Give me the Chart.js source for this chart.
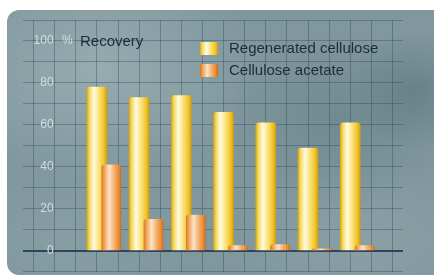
<!DOCTYPE html>
<html>
<head>
<meta charset="utf-8">
<script src="https://cdn.jsdelivr.net/npm/chart.js@4.4.1/dist/chart.umd.min.js"></script>
<style>
  html, body { margin: 0; padding: 0; background: #fff; }
  #wrap { position: relative; width: 434px; height: 279px; overflow: hidden; }
  #panel {
    position: absolute; left: 7px; top: 10px; width: 440px; height: 265px;
    border-radius: 12px;
    background-color: #7f979d;
    background-image:
      radial-gradient(ellipse 160px 110px at 90px 60px, rgba(175,192,196,0.5), rgba(175,192,196,0) 100%),
      radial-gradient(ellipse 120px 90px at 330px 110px, rgba(70,95,104,0.25), rgba(70,95,104,0) 100%),
      radial-gradient(ellipse 70px 60px at 410px 80px, rgba(60,85,95,0.3), rgba(60,85,95,0) 100%),
      radial-gradient(ellipse 140px 80px at 360px 230px, rgba(160,176,180,0.35), rgba(160,176,180,0) 100%),
      radial-gradient(ellipse 120px 80px at 60px 230px, rgba(150,170,175,0.35), rgba(150,170,175,0) 100%);
  }
  canvas { position: absolute; left: 0; top: 0; }
</style>
</head>
<body>
<div id="wrap">
  <div id="panel"></div>
  <canvas id="chart" width="434" height="279"></canvas>
</div>
<script>
// values (% recovery)
const samples = ['1', '2', '3', '4', '5', '6', '7'];
const regenerated = [78, 73, 74, 66, 61, 49, 61];
const acetate = [41, 15, 17, 2.5, 3, 1, 2.5];
const seriesNames = ['Regenerated cellulose', 'Cellulose acetate'];
const yTicks = ['0', '20', '40', '60', '80', '100'];

const textFont = '"Liberation Sans", Arial, sans-serif';

function barFill(stops, fallback) {
  return (c) => {
    const chart = c.chart;
    const s = chart.scales[c.dataset.xAxisID];
    if (!s || !chart.chartArea) return fallback;
    const x = s.getPixelForValue(c.dataIndex);
    const g = chart.ctx.createLinearGradient(x - 10, 0, x + 10, 0);
    stops.forEach(st => g.addColorStop(st[0], st[1]));
    return g;
  };
}

const yellowStops = [[0, '#d9a618'], [0.12, '#f3d85a'], [0.35, '#fffbe2'], [0.6, '#fbe27a'], [0.85, '#f0c52c'], [1, '#cf9d14']];
const orangeStops = [[0, '#d9741c'], [0.12, '#ee9a48'], [0.4, '#fde3c6'], [0.65, '#f5b070'], [0.88, '#ea8a30'], [1, '#c9661a']];

const overlayText = {
  id: 'overlayText',
  afterDraw(chart) {
    const ctx = chart.ctx;
    const y = chart.scales.y;
    const y100 = y.getPixelForValue(100);
    ctx.save();
    ctx.textBaseline = 'middle';
    ctx.font = '12px ' + textFont;
    ctx.fillStyle = '#d3dde0';
    ctx.textAlign = 'left';
    ctx.fillText('%', 62, y100);
    ctx.font = '15px ' + textFont;
    ctx.fillStyle = '#1d2b3a';
    ctx.fillText('Recovery', 80, y100 + 1);

    // legend
    const sw = [yellowStops, orangeStops];
    seriesNames.forEach((name, i) => {
      const top = 42 + i * 22;
      const g = ctx.createLinearGradient(200, 0, 218, 0);
      sw[i].forEach(st => g.addColorStop(st[0], st[1]));
      ctx.fillStyle = g;
      ctx.fillRect(200, top, 18, 13);
      ctx.fillStyle = '#1d2b3a';
      ctx.fillText(name, 229, top + 7);
    });
    ctx.restore();
  }
};

new Chart(document.getElementById('chart'), {
  type: 'bar',
  data: {
    labels: samples,
    datasets: [
      {
        label: seriesNames[0],
        data: regenerated.map((v, i) => ({ x: i, y: v })),
        xAxisID: 'x',
        order: 1,
        grouped: false,
        barPercentage: 1,
        categoryPercentage: 1,
        maxBarThickness: 20,
        backgroundColor: barFill(yellowStops, '#f5d040'),
        borderWidth: 0,
        borderRadius: { topLeft: 3, topRight: 3 }
      },
      {
        label: seriesNames[1],
        data: acetate.map((v, i) => ({ x: i, y: v })),
        xAxisID: 'xo',
        order: 0,
        grouped: false,
        barPercentage: 1,
        categoryPercentage: 1,
        maxBarThickness: 19,
        backgroundColor: barFill(orangeStops, '#ee9030'),
        borderWidth: 0,
        borderRadius: { topLeft: 3, topRight: 3 }
      }
    ]
  },
  options: {
    responsive: false,
    animation: false,
    layout: { padding: { left: 23, right: 31, top: 20, bottom: 7 } },
    plugins: { legend: { display: false }, tooltip: { enabled: false } },
    scales: {
      x: { type: 'linear', display: false, offset: false, min: -1.75, max: 7.25 },
      xo: { type: 'linear', display: false, offset: false, min: -2.09, max: 6.91 },
      x2: {
        type: 'linear', min: 0, max: 18, offset: false,
        ticks: { display: false, stepSize: 1 },
        border: { display: false },
        grid: { color: 'rgba(45,75,90,0.4)', lineWidth: 1, drawTicks: false }
      },
      y: {
        min: -10, max: 110,
        position: { x2: 1.45 },
        border: { display: false },
        grid: {
          drawTicks: false,
          color: c => c.tick && c.tick.value === 0 ? '#2c4660' : 'rgba(45,75,90,0.4)',
          lineWidth: c => c.tick && c.tick.value === 0 ? 2 : 1
        },
        ticks: {
          stepSize: 10,
          padding: 0,
          color: '#d3dde0',
          font: { family: textFont, size: 12 },
          callback: v => (v >= 0 && v <= 100 && v % 20 === 0) ? yTicks[v / 20] : ''
        }
      }
    }
  },
  plugins: [overlayText]
});
</script>
</body>
</html>
